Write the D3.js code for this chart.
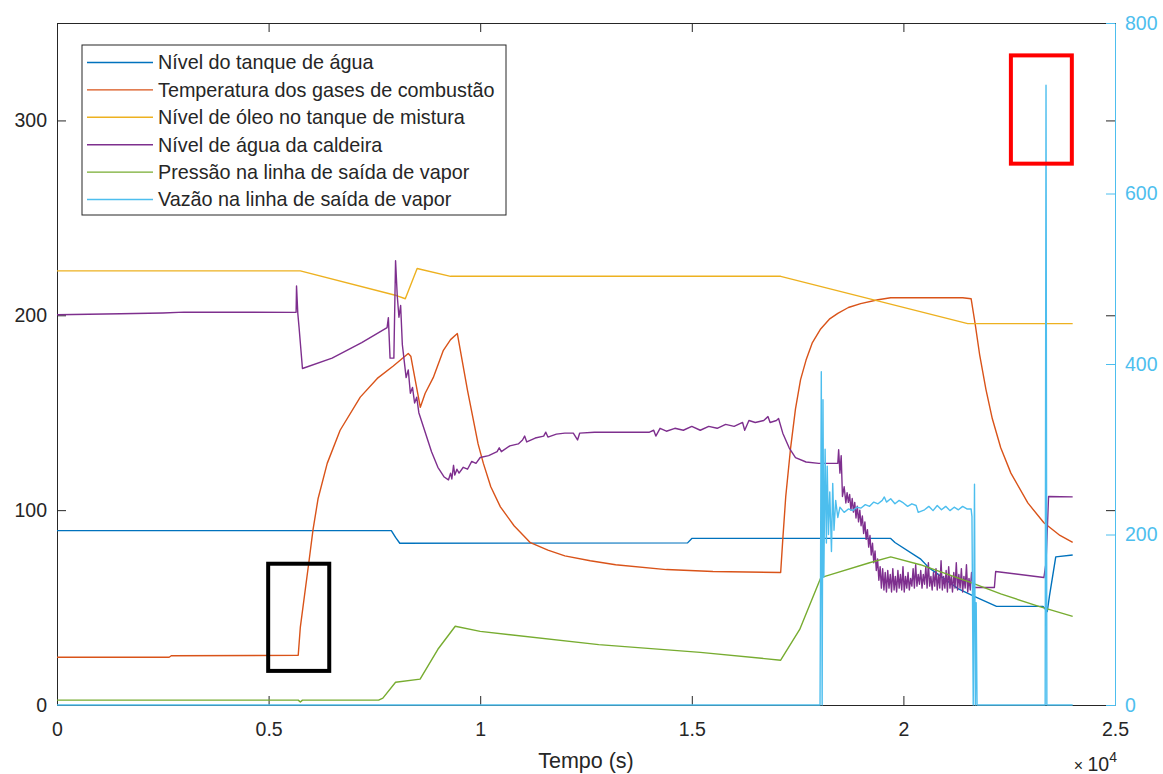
<!DOCTYPE html>
<html>
<head>
<meta charset="utf-8">
<script src="https://cdn.jsdelivr.net/npm/d3@7"></script>
<style>
  body { margin: 0; background: #fff; }
  text { font-family: "Liberation Sans", Arial, sans-serif; }
</style>
</head>
<body>
<svg id="chart" width="1163" height="774"></svg>
<script>
// tempo em segundos
var nivelTanque = [[0,89.5],[7900,89.5],[8000,86],[8100,83],[14900,83.2],[15000,85.5],[19700,85.5],[19800,83.4],
  [20400,75],[20600,70.5],[21300,59.6],[21700,55.5],[22200,50.6],[23300,50.6],[23400,48],[23450,55.7],[23600,76],[24000,77]];

var temperatura = [[0,24.5],[2650,24.5],[2700,25.3],[5700,25.5],[5750,40],[5950,73],[6050,90],[6170,106],[6385,124],
  [6690,141],[7166,158],[7568,167.6],[7946,174],[8300,180.4],[8360,179],[8420,172],[8585,152.8],[8700,160],[8890,168],
  [9130,182],[9300,187.5],[9460,190.6],[9700,161.5],[9950,134],[10075,124],[10250,112],[10477,101.7],[10800,92],
  [11186,83.3],[11600,79.5],[12000,76.5],[12600,74],[13200,72],[14400,69.5],[15500,68.5],[17100,68],[17150,85],
  [17220,107],[17335,132],[17450,152],[17570,167],[17700,177],[17850,186],[18045,193],[18250,198],[18450,201],
  [18700,204],[18990,206],[19400,208],[19700,209],[21400,209],[21600,208.5],[21700,195],[21800,180],[21950,162],
  [22100,147],[22300,132],[22540,119],[22940,103.7],[23320,93.5],[23700,87],[24000,83.5]];

var nivelOleo = [[0,222.8],[5750,222.8],[8040,210],[8230,208.5],[8510,224],[9300,220],[17100,220],[21520,195.7],[24000,195.7]];

var nivelCaldeira = [[0,200.3],[1500,200.8],[2500,201.2],[3000,201.6],[5650,201.5],[5660,215],[5690,201],[5720,193.7],
  [5800,172.7],[6500,178],[7200,186],[7800,193.7],[7830,198.8],[7870,178],[7960,178],[8000,228],[8040,210],[8080,199],
  [8120,205],[8160,185],[8250,168],[8300,172],[8350,160],[8400,163],[8450,155],[8500,158],[8550,150],[8700,140],
  [8850,130],[9000,122],[9150,117],[9250,115.5],[9300,119],[9330,116],[9370,123],[9400,118],[9450,121],[9500,119],
  [9600,122],[9700,121],[9800,125],[9900,124],[10000,127],[10200,128],[10400,130],[10450,132],[10500,130],[10700,133],
  [10900,134],[11000,136],[11050,138],[11100,135],[11300,137],[11500,138],[11550,140],[11600,137.5],[11800,139],
  [12000,139.5],[12200,139.5],[12300,136],[12350,139.5],[12700,140],[14000,140],[14100,141],[14150,138],[14250,142],
  [14400,140.5],[14600,142],[14800,141],[15000,143],[15200,141],[15400,143],[15600,142],[15800,144],[16000,143],
  [16200,145],[16250,141],[16350,146],[16500,145],[16700,146],[16800,148],[16850,145],[17000,146],[17050,147],
  [17150,139.5],[17300,132],[17450,127],[17700,124.7],[18000,124],[18450,124],[18470,131],[18500,119],[18530,128],
  [18560,107],[18600,112],[18640,103.7],[18670,109],[18700,104],[18730,108],[18760,100],[18790,106],[18820,99],
  [18850,104],[18880,96],[18910,102],[18940,94],[18970,100],[19000,92],[19030,97],[19060,88],[19090,94],[19120,85],
  [19150,90],[19180,81],[19210,87],[19240,77],[19270,83],[19300,73],[19330,79],[19360,69],[19390,75],[19420,64],
  [19450,71],[19480,60],[19510,70],[19540,59],[19570,68],[19600,58],[19630,69],[19660,60],[19690,67],[19720,58],
  [19750,70],[19780,59],[19810,66],[19840,58],[19870,69],[19900,60],[19930,67],[19960,59],[19990,71],[20020,58],
  [20050,66],[20080,60],[20110,68],[20140,59],[20170,65],[20200,61],[20230,70],[20260,60],[20290,72],[20320,61],
  [20350,67],[20380,62],[20410,69],[20440,60],[20470,67],[20500,62],[20530,71],[20560,60],[20590,73],[20620,61],
  [20650,66],[20680,59],[20710,68],[20740,61],[20770,70],[20800,59],[20830,67],[20860,60],[20890,74],[20920,59],
  [20950,66],[20980,60],[21010,69],[21040,58],[21070,71],[21100,60],[21130,66],[21160,58],[21190,68],[21220,60],
  [21250,73],[21280,59],[21310,67],[21340,60],[21370,70],[21400,58],[21430,66],[21460,60],[21490,72],[21520,58],
  [21550,65],[21580,59],[21610,68],[21650,60.3],[22150,60.3],[22180,68.5],[23320,65.4],[23370,73],[23430,107],[24000,106.8]];

var pressao = [[0,2.5],[5700,2.5],[5750,1.5],[5800,2.5],[7600,2.5],[7700,3.5],[8000,11.7],[8580,13.3],[9000,28.6],
  [9410,40.4],[10000,37.8],[12800,31],[15200,27],[17100,23],[17550,38.8],[18050,65.4],[18300,67],[19200,73],
  [19700,76],[20400,72],[21600,62.8],[22300,57],[23200,50.6],[24000,45.5]];

var vazao = [[0,0],[18030,0],[18060,391],[18080,0],[18100,358],[18120,150],[18150,300],[18180,190],[18200,280],
  [18230,200],[18260,250],[18300,180],[18330,260],[18360,205],[18400,240],[18450,220],[18500,232],[18600,226],
  [18700,230],[18800,228],[18900,232],[19000,231],[19100,235],[19200,233],[19300,238],[19400,236],[19500,240],
  [19550,244],[19600,238],[19700,242],[19800,236],[19900,240],[20000,237],[20100,233],[20200,236],[20300,234],
  [20350,226],[20500,229],[20600,233],[20700,228],[20800,234],[20900,229],[21000,233],[21100,228],[21200,232],
  [21300,229],[21400,233],[21500,230],[21600,230],[21620,221],[21650,0],[21680,259],[21700,0],[21720,120],[21740,0],
  [23350,0],[23370,727],[23390,0],[24000,0]];

var legendas = ["Nível do tanque de água", "Temperatura dos gases de combustão", "Nível de óleo no tanque de mistura",
  "Nível de água da caldeira", "Pressão na linha de saída de vapor", "Vazão na linha de saída de vapor"];
var cores = ["#0072BD", "#D95319", "#EDB120", "#7E2F8E", "#77AC30", "#4DBEEE"];

var xTicks = [0, 5000, 10000, 15000, 20000, 25000];
var yLeftTicks = [0, 100, 200, 300];
var yRightTicks = [0, 200, 400, 600, 800];

// caixas de destaque: [t0, t1, v0, v1]
var caixaVermelha = [22540, 23980, 762, 635];   // eixo direito
var caixaPreta = [4990, 6433, 72.5, 17.5];      // eixo esquerdo

var margin = {left: 57, right: 48, top: 23, bottom: 69};
var W = 1163, H = 774;
var svg = d3.select("#chart");
var axisColor = "#262626";

var x = d3.scaleLinear().domain([0, 25000]).range([margin.left, W - margin.right]);
var yL = d3.scaleLinear().domain([0, 350]).range([H - margin.bottom, margin.top]);
var yR = d3.scaleLinear().domain([0, 800]).range([H - margin.bottom, margin.top]);

var x0 = x.range()[0], x1 = x.range()[1], yb = yL.range()[0], yt = yL.range()[1];

// eixo de cima e o lado direito com ticks do eixo esquerdo
svg.append("g").attr("transform", "translate(0," + yt + ")")
  .call(d3.axisTop(x).tickValues(xTicks).tickSizeInner(-9).tickSizeOuter(0).tickFormat(""))
  .call(function(g) { g.selectAll("line, path").attr("stroke", axisColor); });

svg.append("g").attr("transform", "translate(" + x1 + ",0)")
  .call(d3.axisRight(yL).tickValues(yLeftTicks).tickSizeInner(-9).tickSizeOuter(0).tickFormat(""))
  .call(function(g) { g.select("path").remove(); g.selectAll("line").attr("stroke", axisColor); });

var gx = svg.append("g").attr("transform", "translate(0," + yb + ")")
  .call(d3.axisBottom(x).tickValues(xTicks).tickSizeInner(-9).tickSizeOuter(0).tickPadding(17)
    .tickFormat(function(d) { return d / 1e4; }));
gx.selectAll("line, path").attr("stroke", axisColor);
gx.selectAll("text").attr("fill", axisColor).style("font-size", "19.5px");

var gl = svg.append("g").attr("transform", "translate(" + x0 + ",0)")
  .call(d3.axisLeft(yL).tickValues(yLeftTicks).tickSizeInner(-9).tickSizeOuter(0).tickPadding(10));
gl.selectAll("line, path").attr("stroke", axisColor);
gl.selectAll("text").attr("fill", axisColor).style("font-size", "19.5px");

var gr = svg.append("g").attr("transform", "translate(" + x1 + ",0)")
  .call(d3.axisRight(yR).tickValues(yRightTicks).tickSizeInner(-9).tickSizeOuter(0).tickPadding(10));
gr.selectAll("line, path").attr("stroke", cores[5]);
gr.selectAll("text").attr("fill", cores[5]).style("font-size", "19.5px");

// linhas
var series = [
  {d: nivelTanque, y: yL}, {d: temperatura, y: yL}, {d: nivelOleo, y: yL},
  {d: nivelCaldeira, y: yL}, {d: pressao, y: yL}, {d: vazao, y: yR}
];
series.forEach(function(s, i) {
  var line = d3.line().x(function(p) { return x(p[0]); }).y(function(p) { return s.y(p[1]); });
  svg.append("path").datum(s.d)
    .attr("d", line)
    .attr("fill", "none")
    .attr("stroke", cores[i])
    .attr("stroke-width", 1.4)
    .attr("stroke-linejoin", "round");
});

// caixas de destaque
svg.append("rect")
  .attr("x", x(caixaVermelha[0])).attr("y", yR(caixaVermelha[2]))
  .attr("width", x(caixaVermelha[1]) - x(caixaVermelha[0]))
  .attr("height", yR(caixaVermelha[3]) - yR(caixaVermelha[2]))
  .attr("fill", "none").attr("stroke", "#ff0000").attr("stroke-width", 4);
svg.append("rect")
  .attr("x", x(caixaPreta[0])).attr("y", yL(caixaPreta[2]))
  .attr("width", x(caixaPreta[1]) - x(caixaPreta[0]))
  .attr("height", yL(caixaPreta[3]) - yL(caixaPreta[2]))
  .attr("fill", "none").attr("stroke", "#000").attr("stroke-width", 4);

// legenda
var leg = svg.append("g").attr("transform", "translate(82,45)");
leg.append("rect").attr("width", 424).attr("height", 170)
  .attr("fill", "#fff").attr("stroke", axisColor).attr("stroke-width", 1);
legendas.forEach(function(t, i) {
  var yy = 17.5 + i * 27.4;
  leg.append("line").attr("x1", 5).attr("x2", 71).attr("y1", yy).attr("y2", yy)
    .attr("stroke", cores[i]).attr("stroke-width", 1.4);
  leg.append("text").attr("x", 76).attr("y", yy).attr("dy", "0.35em")
    .style("font-size", "19.8px").attr("fill", axisColor).text(t);
});

// rotulos
svg.append("text").attr("x", (x0 + x1) / 2).attr("y", 768)
  .attr("text-anchor", "middle").style("font-size", "21.5px").attr("fill", axisColor).text("Tempo (s)");
var exp = svg.append("text").attr("x", x1 + 2).attr("y", 771).attr("text-anchor", "end")
  .style("font-size", "19.5px").attr("fill", axisColor);
exp.append("tspan").style("font-size", "16px").text("× ");
exp.append("tspan").text("10");
exp.append("tspan").attr("dy", -9).style("font-size", "14px").text("4");
</script>
</body>
</html>
